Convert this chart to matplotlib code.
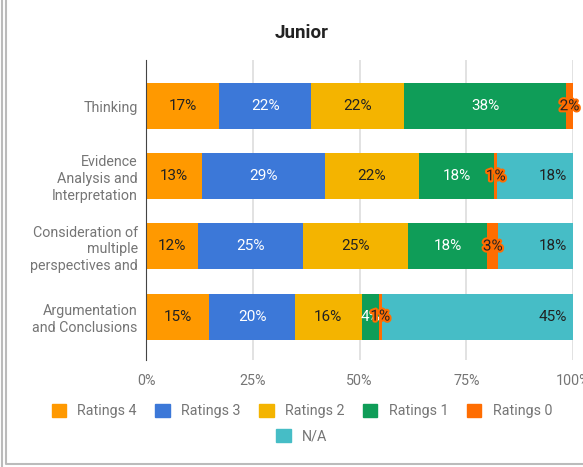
import matplotlib.pyplot as plt
import matplotlib.patheffects as pe
from matplotlib.patches import Patch
from matplotlib.lines import Line2D

plt.rcParams['font.family'] = ['Roboto', 'DejaVu Sans']

categories = [
    "Thinking",
    "Evidence\nAnalysis and\nInterpretation",
    "Consideration of\nmultiple\nperspectives and",
    "Argumentation\nand Conclusions",
]
series = ["Ratings 4", "Ratings 3", "Ratings 2", "Ratings 1", "Ratings 0", "N/A"]
ratings_4 = [17.1, 13.1, 12.2, 14.8]
ratings_3 = [21.6, 28.8, 24.6, 20.1]
ratings_2 = [21.8, 22.0, 24.6, 15.6]
ratings_1 = [37.9, 17.6, 18.5, 4.0]
ratings_0 = [1.6, 0.8, 2.6, 0.7]
n_a = [0.0, 17.7, 17.5, 44.8]
values = [ratings_4, ratings_3, ratings_2, ratings_1, ratings_0, n_a]

colors = ["#ff9900", "#3c78d8", "#f4b400", "#0f9d58", "#ff6d01", "#46bdc6"]
text_colors = ["#222222", "white", "#222222", "white", "#222222", "#222222"]
grey = "#757575"

fig = plt.figure(figsize=(5.83, 4.67), dpi=100)
ax = fig.add_axes([146 / 583, 1 - 360 / 467, 427 / 583, 300 / 467])

ypos = list(range(len(categories)))
left = [0.0] * len(categories)
for i, (name, vals) in enumerate(zip(series, values)):
    ax.barh(ypos, vals, left=left, height=0.657, color=colors[i], zorder=2)
    for j, v in enumerate(vals):
        if v > 0:
            cx = left[j] + v / 2
            effects = None
            if name == "Ratings 0":
                effects = [pe.withStroke(linewidth=3, foreground=colors[i])]
            if name == "N/A":
                cx = left[j] + v - 4.8
            ax.text(cx, j, f"{round(v)}%", ha="center", va="center",
                    fontsize=11, color=text_colors[i], zorder=4,
                    path_effects=effects)
    left = [l + v for l, v in zip(left, vals)]

ax.set_xlim(0, 100)
ax.set_ylim(3.62, -0.66)
ax.set_yticks(ypos)
ax.set_yticklabels(categories, fontsize=10.3, color=grey, linespacing=1.25)
ax.set_xticks([0, 25, 50, 75, 100])
ax.set_xticklabels(["0%", "25%", "50%", "75%", "100%"], fontsize=10.3, color=grey)
ax.tick_params(length=0, pad=6)
ax.tick_params(axis="x", pad=10)
ax.grid(axis="x", color="#dddddd", linewidth=1.2, zorder=0)
for s in ["top", "right", "bottom"]:
    ax.spines[s].set_visible(False)
ax.spines["left"].set_color("#444444")
ax.spines["left"].set_zorder(5)

fig.text(302 / 583, 1 - 33 / 467, "Junior", ha="center", va="center",
         fontsize=13.5, fontweight="bold", color="#222222")

handles = [Patch(facecolor=c, edgecolor=c) for c in colors]
fig.legend(handles[:5], series[:5], loc="center", ncol=5,
           bbox_to_anchor=(302 / 583, 1 - 411 / 467), frameon=False,
           fontsize=10.3, labelcolor=grey, handlelength=1.0, handleheight=1.0,
           columnspacing=1.3, handletextpad=0.8)
fig.legend(handles[5:], series[5:], loc="center",
           bbox_to_anchor=(302 / 583, 1 - 436 / 467), frameon=False,
           fontsize=10.3, labelcolor=grey, handlelength=1.0, handleheight=1.0,
           handletextpad=0.8)

# frame of the screenshot
fig.add_artist(Line2D([2 / 583, 2 / 583], [0, 1], color="#bbbbbb", lw=1.5))
fig.add_artist(Line2D([6 / 583, 6 / 583, 1], [1, 1 - 464 / 467, 1 - 464 / 467],
                      color="#bbbbbb", lw=1.5))

fig.savefig("out.png", dpi=100)
